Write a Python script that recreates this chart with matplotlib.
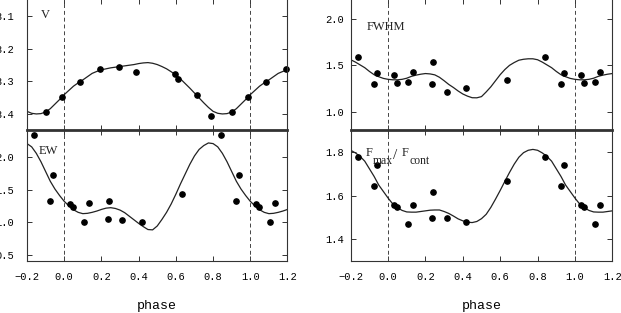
"""Four-panel phase diagram: V, EW, FWHM and Fmax/Fcont vs phase."""
import numpy as np
import matplotlib
matplotlib.use("Agg")
import matplotlib.pyplot as plt
from matplotlib.transforms import offset_copy

# observed points, phase in [0, 1)
v_phase = [0.087, 0.19, 0.297, 0.386, 0.597, 0.61, 0.715, 0.79, 0.9, 0.987]
v_mag = [8.302, 8.264, 8.256, 8.271, 8.278, 8.294, 8.343, 8.407, 8.394, 8.348]

sp_phase = [0.031, 0.047, 0.108, 0.134, 0.234, 0.241, 0.313, 0.417,
            0.635, 0.84, 0.923, 0.942]
ew = [1.28, 1.235, 0.995, 1.297, 1.05, 1.33, 1.025, 0.995,
      1.435, 2.335, 1.32, 1.73]
fwhm = [1.40, 1.311, 1.322, 1.425, 1.297, 1.536, 1.211, 1.254,
        1.343, 1.593, 1.30, 1.421]
fratio = [1.558, 1.547, 1.471, 1.556, 1.497, 1.616, 1.497, 1.480,
          1.669, 1.781, 1.646, 1.740]

fit_phase = np.arange(40) * 0.025
v_fit = [8.341, 8.328, 8.315, 8.305, 8.296, 8.286, 8.276, 8.270, 8.265, 8.262,
         8.259, 8.257, 8.255, 8.253, 8.251, 8.249, 8.246, 8.244, 8.243, 8.245,
         8.249, 8.255, 8.262, 8.271, 8.281, 8.293, 8.307, 8.321, 8.336, 8.351,
         8.366, 8.380, 8.392, 8.398, 8.400, 8.399, 8.394, 8.384, 8.370, 8.356]
ew_fit = [1.32, 1.25, 1.19, 1.15, 1.13, 1.135, 1.15, 1.17, 1.195, 1.215,
          1.222, 1.21, 1.185, 1.145, 1.09, 1.035, 0.98, 0.93, 0.885, 0.88,
          0.94, 1.04, 1.15, 1.28, 1.43, 1.59, 1.74, 1.89, 2.02, 2.12,
          2.18, 2.22, 2.21, 2.16, 2.06, 1.93, 1.78, 1.63, 1.51, 1.41]
fwhm_fit = [1.35, 1.345, 1.345, 1.35, 1.362, 1.382, 1.395, 1.405, 1.412, 1.408,
            1.398, 1.372, 1.335, 1.295, 1.262, 1.225, 1.193, 1.17, 1.153, 1.152,
            1.165, 1.215, 1.27, 1.335, 1.40, 1.455, 1.50, 1.53, 1.555, 1.565,
            1.57, 1.57, 1.56, 1.535, 1.505, 1.475, 1.435, 1.40, 1.378, 1.36]
fratio_fit = [1.59, 1.563, 1.546, 1.533, 1.526, 1.525, 1.525, 1.528, 1.531, 1.534,
              1.535, 1.535, 1.528, 1.519, 1.507, 1.494, 1.485, 1.479, 1.477, 1.482,
              1.495, 1.515, 1.547, 1.585, 1.625, 1.667, 1.708, 1.746, 1.778, 1.799,
              1.81, 1.814, 1.81, 1.798, 1.782, 1.76, 1.725, 1.69, 1.65, 1.62]

W, H = 621, 313
tick_font = dict(family="Liberation Mono", size=7.5)
lab_font = dict(family="Liberation Serif", size=9, color="#222222")


def unfold(phase, vals):
    # repeat one cycle over -1..2 and keep what falls in the plot range
    p = np.concatenate([np.asarray(phase) + k for k in (-1, 0, 1)])
    v = np.tile(vals, 3)
    m = (p >= -0.2) & (p <= 1.2)
    return p[m], v[m]


def curve(vals):
    p = np.concatenate([fit_phase + k for k in (-1, 0, 1)] + [[2.0]])
    v = np.concatenate([np.tile(vals, 3), [vals[0]]])
    return p, v


def panel(rect, phase, vals, fit, ylim, yticks, label, lpos, xlabels):
    ax = fig.add_axes(rect)
    ax.set_xlim(-0.2, 1.2)
    ax.set_ylim(*ylim)
    for x0 in (0.0, 1.0):
        ax.axvline(x0, color="#444444", lw=0.7, ls=(0, (4, 3)))
    px, py = curve(fit)
    ax.plot(px, py, color="#222222", lw=0.9)
    dx, dy = unfold(phase, vals)
    ax.plot(dx, dy, "o", color="black", ms=3.8, clip_on=False)
    ax.set_xticks(np.arange(-0.2, 1.21, 0.2))
    ax.set_yticks(yticks)
    ax.tick_params(direction="in", top=True, right=True, length=3.6,
                   width=0.7, color="#333333")
    ax.tick_params(axis="y", pad=9.5 if rect[0] < 0.5 else 5)
    ax.tick_params(axis="x", pad=8)
    if xlabels:
        ax.set_xticklabels([f"{t:.1f}".replace("-", "\u2212")
                            for t in ax.get_xticks()], **tick_font)
        ax.set_xlabel("phase", family="Liberation Mono", size=9.5,
                      labelpad=13)
    else:
        ax.set_xticklabels([])
    ax.set_yticklabels([f"{t:.1f}" for t in yticks], **tick_font)
    for s in ax.spines.values():
        s.set_linewidth(0.8)
        s.set_color("#333333")
    if label:
        ax.text(lpos[0], lpos[1], label, transform=ax.transAxes,
                va="center", **lab_font)
    return ax


fig = plt.figure(figsize=(W / 100, H / 100), dpi=100)

up_b, up_h = (H - 130.3) / H, (130.3 + 1.5) / H
lo_b, lo_h = 52 / H, (261 - 130.3) / H
lx, lw = 27 / W, 260.5 / W
rx, rw = 350.7 / W, 261.6 / W

a1 = panel([lx, up_b, lw, up_h], v_phase, v_mag, v_fit, (8.45, 8.047),
           [8.1, 8.2, 8.3, 8.4], "V", (0.054, 0.877), False)
a2 = panel([lx, lo_b, lw, lo_h], sp_phase, ew, ew_fit, (0.4, 2.415),
           [0.5, 1.0, 1.5, 2.0], "EW", (0.043, 0.844), True)
a3 = panel([rx, up_b, rw, up_h], sp_phase, fwhm, fwhm_fit, (0.804, 2.216),
           [1.0, 1.5, 2.0], "FWHM", (0.061, 0.786), False)
a4 = panel([rx, lo_b, rw, lo_h], sp_phase, fratio, fratio_fit, (1.3, 1.902),
           [1.4, 1.6, 1.8], None, None, True)

# F_max / F_cont built from pieces, offsets in pixels from the first F
pieces = [("F", 0, 0, 9), ("max", 7.6, -7.5, 8.4), ("/", 27.0, -2.5, 11),
          ("F", 35.5, 0, 9), ("cont", 43.8, -7.5, 8.4)]
for txt, dx, dy, sz in pieces:
    tr = offset_copy(a4.transAxes, fig=fig, x=dx, y=dy, units="dots")
    a4.text(0.0573, 0.801, txt, transform=tr, va="baseline",
            family="Liberation Serif", size=sz, color="#222222")

for ax in (a2, a4):
    ax.spines["top"].set_linewidth(2.0)

fig.savefig("out.png", dpi=100)
